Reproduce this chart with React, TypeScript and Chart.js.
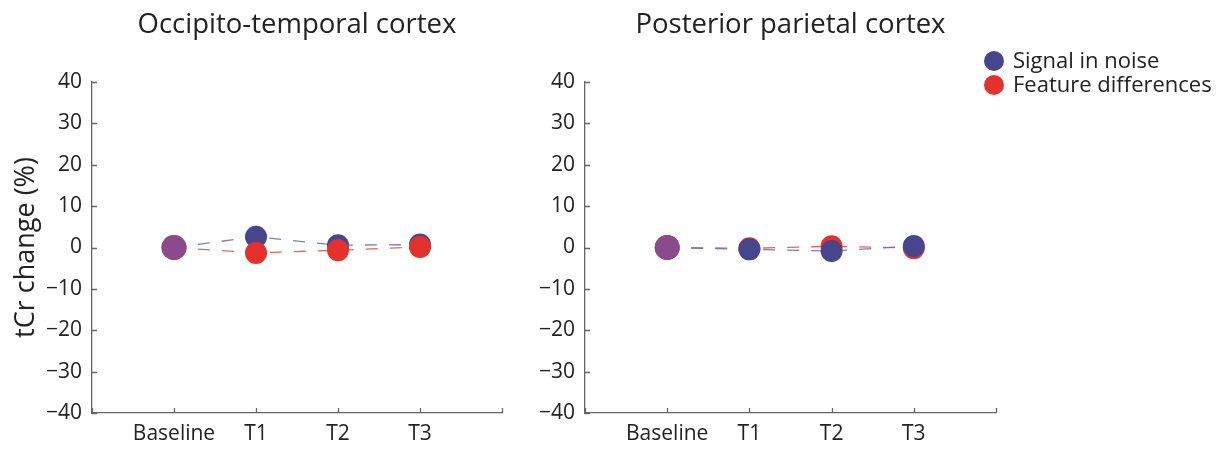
import React, { useEffect, useRef } from 'react';
import { Chart, registerables } from 'chart.js';

Chart.register(...registerables);

// ---------- data ----------
const categories = ['Baseline', 'T1', 'T2', 'T3'];
const seriesNames = ['Signal in noise', 'Feature differences'];
const panelTitles = ['Occipito-temporal cortex', 'Posterior parietal cortex'];
const yAxisTitle = 'tCr change (%)';
const yMin = -40;
const yMax = 40;
const yStep = 10;

const otSignal = [0, 2.6, 0.55, 0.7];
const otFeature = [0, -1.3, -0.65, 0.15];
const ppSignal = [0, -0.45, -0.85, 0.35];
const ppFeature = [0, -0.2, 0.3, -0.15];

// ---------- styles ----------
const FONT = '"Open Sans", "Noto Sans", sans-serif';
const BLUE = '#46468c';
const RED = '#e5312b';
const PURPLE = '#8c4a8c';
const BLUE_LINE = 'rgba(110,110,185,0.9)';
const RED_LINE = 'rgba(236,80,70,0.9)';
const AXIS = '#666666';
const TEXT = '#222222';

const withPads = (vals: number[]) => [null, ...vals, null];
const fmtTick = (v: number) => (v < 0 ? '\u2212' + Math.abs(v) : String(v));

function makeDataset(label: string, values: number[], color: string, lineColor: string, order: number) {
  return {
    label,
    data: withPads(values),
    borderColor: lineColor,
    borderWidth: 1.3,
    borderDash: [12, 12],
    backgroundColor: color,
    pointBackgroundColor: (c: any) => (c.dataIndex === 1 ? PURPLE : color),
    pointBorderWidth: 0,
    pointRadius: (c: any) => (c.dataIndex === 1 ? 12.5 : 11),
    pointHoverRadius: 11,
    fill: false,
    tension: 0,
    order,
  };
}

const titlePlugin = {
  id: 'panelTitle',
  afterDraw(chart: any) {
    const t = chart.options.plugins.panelTitle?.text;
    if (!t) return;
    const { ctx, chartArea } = chart;
    ctx.save();
    ctx.font = `27.5px ${FONT}`;
    ctx.fillStyle = TEXT;
    ctx.textAlign = 'center';
    ctx.textBaseline = 'alphabetic';
    ctx.fillText(t, (chartArea.left + chartArea.right) / 2, 33);
    ctx.restore();
  },
};

const inwardTicks = {
  id: 'inwardTicks',
  afterDraw(chart: any) {
    const { ctx, chartArea, scales } = chart;
    ctx.save();
    ctx.strokeStyle = AXIS;
    ctx.lineWidth = 1.3;
    ctx.beginPath();
    scales.y.ticks.forEach((t: any) => {
      const py = Math.round(scales.y.getPixelForValue(t.value)) + 0.5;
      ctx.moveTo(chartArea.left, py);
      ctx.lineTo(chartArea.left + 5, py);
    });
    scales.x.ticks.forEach((_t: any, i: number) => {
      const px = Math.round(scales.x.getPixelForTick(i)) + 0.5;
      ctx.moveTo(px, chartArea.bottom);
      ctx.lineTo(px, chartArea.bottom - 5);
    });
    ctx.stroke();
    ctx.restore();
  },
};

const dotLegend = {
  id: 'dotLegend',
  afterDraw(chart: any) {
    if (!chart.options.plugins.dotLegend?.show) return;
    const { ctx, chartArea } = chart;
    const sets = chart.data.datasets;
    ctx.save();
    ctx.font = `22px ${FONT}`;
    ctx.textBaseline = 'middle';
    ctx.textAlign = 'left';
    seriesNames.forEach((name, row) => {
      const ds = sets.find((d: any) => d.label === name);
      const cx = chartArea.right - 2;
      const cy = chartArea.top - 21 + row * 24;
      ctx.fillStyle = ds.backgroundColor;
      ctx.beginPath();
      ctx.arc(cx, cy, 10, 0, Math.PI * 2);
      ctx.fill();
      ctx.fillStyle = TEXT;
      ctx.fillText(ds.label, cx + 19, cy + 1);
    });
    ctx.restore();
  },
};

function makeConfig(p: {
  title: string;
  signal: number[];
  feature: number[];
  yWidth: number;
  showYTitle: boolean;
  padRight: number;
  legend: boolean;
  signalOnTop: boolean;
}) {
  return {
    type: 'line' as const,
    data: {
      labels: ['', ...categories, ''],
      datasets: [
        makeDataset(seriesNames[0], p.signal, BLUE, BLUE_LINE, p.signalOnTop ? 0 : 1),
        makeDataset(seriesNames[1], p.feature, RED, RED_LINE, p.signalOnTop ? 1 : 0),
      ],
    },
    options: {
      animation: false as const,
      responsive: false,
      events: [],
      layout: { padding: { top: 82, right: p.padRight, left: 0, bottom: 0 } },
      plugins: {
        legend: { display: false },
        tooltip: { enabled: false },
        panelTitle: { text: p.title },
        dotLegend: { show: p.legend },
      },
      scales: {
        x: {
          type: 'category' as const,
          offset: false,
          grid: { display: false, drawTicks: false },
          border: { display: true, color: AXIS, width: 1.3 },
          ticks: {
            autoSkip: false,
            maxRotation: 0,
            padding: 8,
            color: TEXT,
            font: { family: FONT, size: 21 },
          },
          afterFit: (s: any) => {
            s.height = 37;
          },
        },
        y: {
          min: yMin,
          max: yMax,
          grid: { display: false, drawTicks: false },
          border: { display: true, color: AXIS, width: 1.3 },
          ticks: {
            stepSize: yStep,
            padding: 10,
            color: TEXT,
            font: { family: FONT, size: 21 },
            callback: (v: any) => fmtTick(Number(v)),
          },
          title: {
            display: p.showYTitle,
            text: yAxisTitle,
            color: TEXT,
            font: { family: FONT, size: 27 },
            padding: { top: 10, bottom: 0 },
          },
          afterFit: (s: any) => {
            s.width = p.yWidth;
          },
        },
      },
    },
    plugins: [titlePlugin, inwardTicks, dotLegend],
  };
}

function Panel(props: { width: number; left: number; config: any }) {
  const ref = useRef<HTMLCanvasElement>(null);
  useEffect(() => {
    if (!ref.current) return;
    const chart = new Chart(ref.current, props.config);
    return () => chart.destroy();
  }, []);
  return (
    <canvas
      ref={ref}
      width={props.width}
      height={450}
      style={{ position: 'absolute', left: props.left, top: 0, width: props.width, height: 450 }}
    />
  );
}

export default function App() {
  const leftCfg = makeConfig({
    title: panelTitles[0],
    signal: otSignal,
    feature: otFeature,
    yWidth: 92,
    showYTitle: true,
    padRight: 18,
    legend: false,
    signalOnTop: false,
  });
  const rightCfg = makeConfig({
    title: panelTitles[1],
    signal: ppSignal,
    feature: ppFeature,
    yWidth: 65,
    showYTitle: false,
    padRight: 226,
    legend: true,
    signalOnTop: true,
  });
  return (
    <div style={{ position: 'absolute', left: 0, top: 0, width: 1222, height: 450, background: '#fff' }}>
      <Panel width={520} left={0} config={leftCfg} />
      <Panel width={702} left={520} config={rightCfg} />
    </div>
  );
}
